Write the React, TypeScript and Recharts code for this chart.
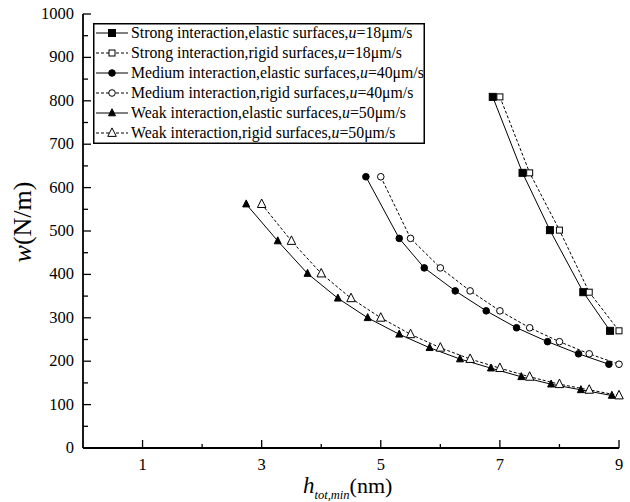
import React from 'react';
import { LineChart, Line, XAxis, YAxis, Label } from 'recharts';

// film thickness h (nm) and load per unit length w (N/m)
const strongW = [809, 634, 502, 359, 270];
const strongElasticH = [6.88, 7.38, 7.84, 8.4, 8.85];
const strongRigidH = [7, 7.5, 8, 8.5, 9];

const mediumW = [625, 483, 415, 362, 316, 277, 245, 217, 193];
const mediumElasticH = [4.75, 5.31, 5.73, 6.25, 6.77, 7.28, 7.8, 8.32, 8.83];
const mediumRigidH = [5, 5.5, 6, 6.5, 7, 7.5, 8, 8.5, 9];

const weakW = [562, 477, 402, 345, 300, 262, 231, 205, 184, 164, 147, 134, 121];
const weakElasticH = [2.74, 3.27, 3.77, 4.28, 4.78, 5.31, 5.82, 6.33, 6.85, 7.36, 7.86, 8.36, 8.88];
const weakRigidH = [3, 3.5, 4, 4.5, 5, 5.5, 6, 6.5, 7, 7.5, 8, 8.5, 9];

const xTicks = [0, 1, 2, 3, 4, 5, 6, 7, 8, 9];
const xLabels = [1, 3, 5, 7, 9];
const yTicks = [0, 50, 100, 150, 200, 250, 300, 350, 400, 450, 500, 550, 600, 650, 700, 750, 800, 850, 900, 950, 1000];

const FONT = 'Liberation Serif, Times New Roman, DejaVu Serif, serif';

const pairs = (hs: number[], ws: number[]) => hs.map((h, i) => ({ h, w: ws[i] }));

type Shape = 'square' | 'circle' | 'triangle';

const Marker = ({ cx, cy, shape, filled }: { cx: number; cy: number; shape: Shape; filled: boolean }) => {
  const fill = filled ? '#000' : '#fff';
  if (shape === 'square') {
    const s = filled ? 7 : 6;
    return <rect x={cx - s / 2} y={cy - s / 2} width={s} height={s} fill={fill} stroke="#000" strokeWidth={1} />;
  }
  if (shape === 'circle') {
    return <circle cx={cx} cy={cy} r={3.3} fill={fill} stroke="#000" strokeWidth={1} />;
  }
  const s = filled ? 7 : 8.5;
  return (
    <polygon
      points={`${cx},${cy - s * 0.6} ${cx - s / 2},${cy + s * 0.4} ${cx + s / 2},${cy + s * 0.4}`}
      fill={fill}
      stroke="#000"
      strokeWidth={1}
    />
  );
};

const series = [
  { name: 'Strong interaction,elastic surfaces,', u: '18', data: pairs(strongElasticH, strongW), shape: 'square' as Shape, filled: true },
  { name: 'Strong interaction,rigid surfaces,', u: '18', data: pairs(strongRigidH, strongW), shape: 'square' as Shape, filled: false },
  { name: 'Medium interaction,elastic surfaces,', u: '40', data: pairs(mediumElasticH, mediumW), shape: 'circle' as Shape, filled: true },
  { name: 'Medium interaction,rigid surfaces,', u: '40', data: pairs(mediumRigidH, mediumW), shape: 'circle' as Shape, filled: false },
  { name: 'Weak interaction,elastic surfaces,', u: '50', data: pairs(weakElasticH, weakW), shape: 'triangle' as Shape, filled: true },
  { name: 'Weak interaction,rigid surfaces,', u: '50', data: pairs(weakRigidH, weakW), shape: 'triangle' as Shape, filled: false },
];

const YTick = (props: any) => {
  const { x, y, payload } = props;
  const ax = x + 10;
  const major = payload.value % 100 === 0;
  return (
    <g>
      <line x1={ax} y1={y} x2={ax + (major ? 8 : 5)} y2={y} stroke="#000" strokeWidth={1.3} />
      {major && (
        <text x={ax - 9} y={y + 5} textAnchor="end" fontFamily={FONT} fontSize={16.5} fill="#000">
          {payload.value}
        </text>
      )}
    </g>
  );
};

const XTick = (props: any) => {
  const { x, y, payload } = props;
  const ay = y - 8;
  const v = payload.value;
  if (v === 0) return null;
  const major = xLabels.includes(v);
  return (
    <g>
      <line x1={x} y1={ay} x2={x} y2={ay - (major ? 8 : 4)} stroke="#000" strokeWidth={1.3} />
      {major && (
        <text x={x} y={ay + 22} textAnchor="middle" fontFamily={FONT} fontSize={16.5} fill="#000">
          {v}
        </text>
      )}
    </g>
  );
};

const LegendBox = () => (
  <svg width={332} height={121} style={{ display: 'block' }}>
    <rect x={0.75} y={0.75} width={330.5} height={119.5} fill="#fff" stroke="#000" strokeWidth={1.5} />
    {series.map((s, i) => {
      const cy = 10 + i * 20;
      return (
        <g key={s.name}>
          <line x1={3} y1={cy} x2={35} y2={cy} stroke="#000" strokeWidth={1} strokeDasharray={s.filled ? undefined : '3 2'} />
          <Marker cx={19} cy={cy} shape={s.shape} filled={s.filled} />
          <text x={38} y={cy + 5} fontFamily={FONT} fontSize={15.8} fill="#000">
            {s.name}
            <tspan fontStyle="italic">u</tspan>={s.u}μm/s
          </text>
        </g>
      );
    })}
  </svg>
);

export default function App() {
  return (
    <div style={{ position: 'absolute', left: 0, top: 0, width: 630, height: 502, background: '#fff' }}>
      <LineChart width={630} height={502} margin={{ top: 14, right: 11, bottom: 24, left: 23 }}>
        <XAxis
          xAxisId={0}
          type="number"
          dataKey="h"
          domain={[0, 9]}
          ticks={xTicks}
          interval={0}
          tickSize={0}
          tickMargin={8}
          tickLine={false}
          tick={<XTick />}
          height={30}
          axisLine={{ stroke: '#000', strokeWidth: 1.8 }}
        >
          <Label
            content={() => (
              <text x={303} y={493} fontFamily={FONT} fill="#000">
                <tspan fontStyle="italic" fontSize={23}>h</tspan>
                <tspan fontStyle="italic" fontSize={12.5} dy={6}>tot,min</tspan>
                <tspan fontSize={22} dy={-6}>(nm)</tspan>
              </text>
            )}
          />
        </XAxis>
        <XAxis
          xAxisId="top"
          orientation="top"
          type="number"
          dataKey="h"
          domain={[0, 9]}
          height={0}
          tick={false}
          tickLine={false}
          axisLine={{ stroke: '#000', strokeWidth: 1.8 }}
        />
        <YAxis
          yAxisId={0}
          type="number"
          domain={[0, 1000]}
          ticks={yTicks}
          interval={0}
          tickSize={0}
          tickMargin={10}
          tickLine={false}
          tick={<YTick />}
          width={60}
          axisLine={{ stroke: '#000', strokeWidth: 1.8 }}
        >
          <Label
            content={() => (
              <text
                x={31}
                y={222}
                transform="rotate(-90 31 222)"
                textAnchor="middle"
                fontFamily={FONT}
                fontSize={26}
                fill="#000"
              >
                <tspan fontStyle="italic">w</tspan>(N/m)
              </text>
            )}
          />
        </YAxis>
        <YAxis
          yAxisId="right"
          orientation="right"
          type="number"
          domain={[0, 1000]}
          width={0}
          tick={false}
          tickLine={false}
          axisLine={{ stroke: '#000', strokeWidth: 1.8 }}
        />
        {series.map((s) => (
          <Line
            key={s.name}
            data={s.data}
            dataKey="w"
            name={s.name}
            xAxisId={0}
            yAxisId={0}
            stroke="#000"
            strokeWidth={1}
            strokeDasharray={s.filled ? undefined : '3 2'}
            dot={(p: any) => <Marker key={`${s.name}-${p.index}`} cx={p.cx} cy={p.cy} shape={s.shape} filled={s.filled} />}
            activeDot={false}
            isAnimationActive={false}
          />
        ))}
      </LineChart>
      <div style={{ position: 'absolute', left: 93, top: 23 }}>
        <LegendBox />
      </div>
    </div>
  );
}
